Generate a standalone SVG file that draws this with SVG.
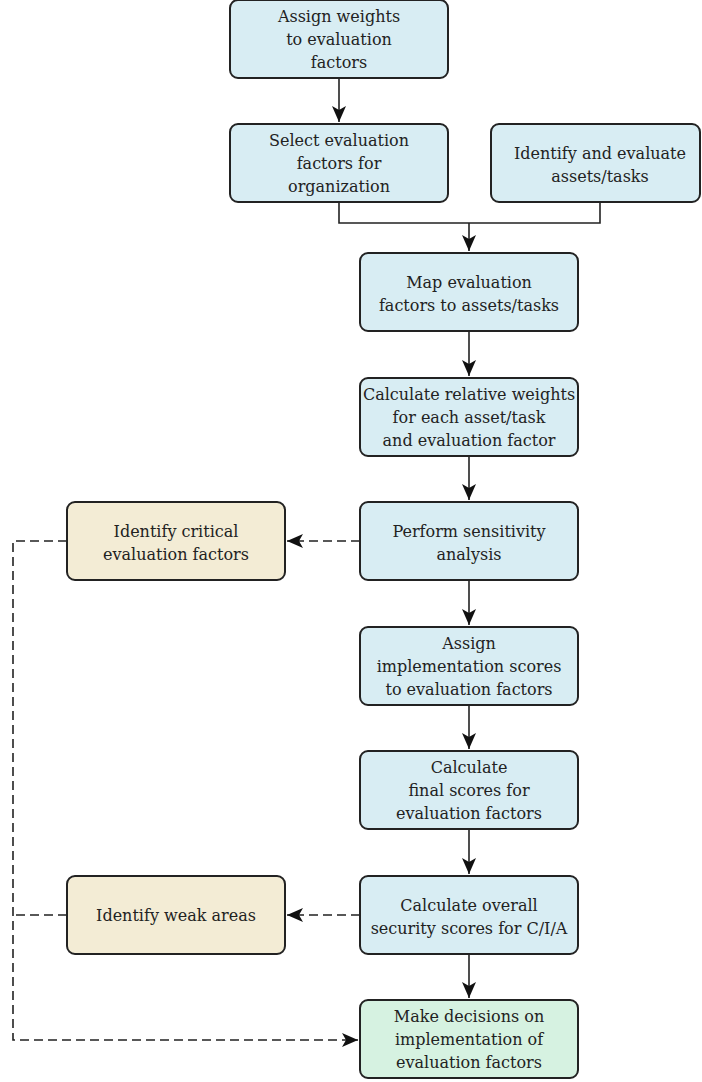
<svg xmlns="http://www.w3.org/2000/svg" width="702" height="1082" viewBox="0 0 702 1082">
<style>
.n rect{stroke:#222;stroke-width:2}
.b rect{fill:#d8edf3}
.y rect{fill:#f3ecd5}
.g rect{fill:#d6f2e1}
text{font-family:"DejaVu Serif","Liberation Serif",serif;font-size:16px;fill:#222;text-anchor:middle}
.c path{fill:none;stroke:#222;stroke-width:1.6}
.c .d{stroke-dasharray:9,5}
</style>
<defs>
<marker id="ahb" viewBox="0 0 16 14" refX="16" refY="7" markerWidth="16" markerHeight="14" markerUnits="userSpaceOnUse" orient="auto">
<path d="M0,0 L16,7 L0,14 L4,7 Z" fill="#111"/>
</marker>
</defs>
<g class="c">
<path d="M339,78 V122" marker-end="url(#ahb)"/>
<path d="M339,202 V223 H600 V202"/>
<path d="M469,223 V251" marker-end="url(#ahb)"/>
<path d="M469,331 V376" marker-end="url(#ahb)"/>
<path d="M469,456 V500" marker-end="url(#ahb)"/>
<path d="M469,580 V625" marker-end="url(#ahb)"/>
<path d="M469,705 V749" marker-end="url(#ahb)"/>
<path d="M469,829 V874" marker-end="url(#ahb)"/>
<path d="M469,954 V998" marker-end="url(#ahb)"/>
<path class="d" d="M360,541 H287" marker-end="url(#ahb)"/>
<path class="d" d="M360,915 H287" marker-end="url(#ahb)"/>
<path class="d" d="M67,541 H13 V1040 H358" marker-end="url(#ahb)"/>
<path class="d" d="M67,915 H13"/>
</g>
<g id="n1" class="n b"><rect x="230" y="0" width="218" height="78" rx="8"/><text x="339" y="22">Assign weights</text><text x="339" y="45">to evaluation</text><text x="339" y="68">factors</text></g>
<g id="n2" class="n b"><rect x="230" y="124" width="218" height="78" rx="8"/><text x="339" y="146">Select evaluation</text><text x="339" y="169">factors for</text><text x="339" y="192">organization</text></g>
<g id="n3" class="n b"><rect x="491" y="124" width="209" height="78" rx="8"/><text x="600" y="159">Identify and evaluate</text><text x="600" y="182">assets/tasks</text></g>
<g id="n4" class="n b"><rect x="360" y="253" width="218" height="78" rx="8"/><text x="469" y="288">Map evaluation</text><text x="469" y="311">factors to assets/tasks</text></g>
<g id="n5" class="n b"><rect x="360" y="378" width="218" height="78" rx="8"/><text x="469" y="400">Calculate relative weights</text><text x="469" y="423">for each asset/task</text><text x="469" y="446">and evaluation factor</text></g>
<g id="n6" class="n b"><rect x="360" y="502" width="218" height="78" rx="8"/><text x="469" y="537">Perform sensitivity</text><text x="469" y="560">analysis</text></g>
<g id="n7" class="n y"><rect x="67" y="502" width="218" height="78" rx="8"/><text x="176" y="537">Identify critical</text><text x="176" y="560">evaluation factors</text></g>
<g id="n8" class="n b"><rect x="360" y="627" width="218" height="78" rx="8"/><text x="469" y="649">Assign</text><text x="469" y="672">implementation scores</text><text x="469" y="695">to evaluation factors</text></g>
<g id="n9" class="n b"><rect x="360" y="751" width="218" height="78" rx="8"/><text x="469" y="773">Calculate</text><text x="469" y="796">final scores for</text><text x="469" y="819">evaluation factors</text></g>
<g id="n10" class="n b"><rect x="360" y="876" width="218" height="78" rx="8"/><text x="469" y="911">Calculate overall</text><text x="469" y="934">security scores for C/I/A</text></g>
<g id="n11" class="n y"><rect x="67" y="876" width="218" height="78" rx="8"/><text x="176" y="921">Identify weak areas</text></g>
<g id="n12" class="n g"><rect x="360" y="1000" width="218" height="78" rx="8"/><text x="469" y="1022">Make decisions on</text><text x="469" y="1045">implementation of</text><text x="469" y="1068">evaluation factors</text></g>
</svg>
